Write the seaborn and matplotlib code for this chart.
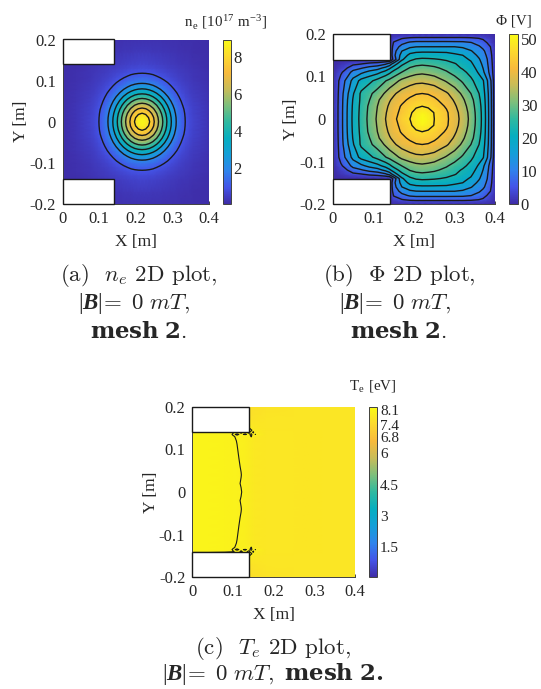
import numpy as np
import seaborn as sns
import matplotlib
matplotlib.use('Agg')
import matplotlib.pyplot as plt
from matplotlib.patches import Rectangle

# Значения считаны с картинки
# ne - четверть вокруг максимума (dx, dy), остальное зеркально
ne_center = .217
ne_dx = [0, .01, .02, .03, .04, .05, .06, .07, .08, .09, .10, .11, .12, .13, .14, .18, .22]
ne_dy = [0, .01, .02, .03, .04, .05, .06, .07, .08, .09, .10, .11, .12, .13, .14, .17, .2]
ne_quarter = [
    [8.9, 8.7, 8.05, 7.3, 6.4, 5.6, 4.7, 3.8, 3.0, 2.2, 1.6, 1.2, .95, .75, .6, .3, .12],
    [8.7, 8.43, 7.87, 7.15, 6.3, 5.51, 4.63, 3.74, 2.95, 2.17, 1.58, 1.19, .94, .74, .6, .3, .12],
    [8.05, 7.87, 7.43, 6.75, 6.02, 5.25, 4.41, 3.58, 2.8, 2.07, 1.52, 1.15, .92, .73, .59, .3, .12],
    [7.3, 7.15, 6.75, 6.2, 5.6, 4.85, 4.06, 3.31, 2.56, 1.91, 1.42, 1.1, .88, .7, .57, .29, .12],
    [6.4, 6.3, 6.02, 5.6, 5.01, 4.34, 3.63, 2.95, 2.24, 1.69, 1.29, 1.02, .82, .66, .54, .28, .12],
    [5.6, 5.51, 5.25, 4.85, 4.34, 3.74, 3.15, 2.52, 1.94, 1.48, 1.15, .93, .75, .61, .51, .27, .12],
    [4.7, 4.63, 4.41, 4.06, 3.63, 3.15, 2.61, 2.07, 1.6, 1.27, 1.03, .84, .69, .57, .48, .26, .12],
    [3.8, 3.74, 3.58, 3.31, 2.95, 2.52, 2.07, 1.66, 1.35, 1.1, .91, .74, .62, .52, .45, .25, .12],
    [3.0, 2.95, 2.8, 2.56, 2.24, 1.94, 1.6, 1.35, 1.12, .94, .79, .66, .56, .48, .41, .23, .12],
    [2.2, 2.17, 2.07, 1.91, 1.69, 1.48, 1.27, 1.1, .94, .8, .68, .58, .5, .44, .38, .22, .12],
    [1.6, 1.58, 1.52, 1.42, 1.29, 1.15, 1.03, .91, .79, .68, .59, .51, .45, .39, .34, .2, .12],
    [1.2, 1.19, 1.15, 1.1, 1.02, .93, .84, .74, .66, .58, .51, .46, .4, .35, .31, .19, .12],
    [.95, .94, .92, .88, .82, .75, .69, .62, .56, .5, .45, .4, .35, .32, .28, .18, .12],
    [.75, .74, .73, .7, .66, .61, .57, .52, .48, .44, .39, .35, .32, .28, .26, .17, .12],
    [.6, .6, .59, .57, .54, .51, .48, .45, .41, .38, .34, .31, .28, .26, .23, .16, .11],
    [.35, .35, .35, .34, .33, .32, .3, .28, .27, .25, .23, .22, .2, .19, .17, .13, .1],
    [.22, .22, .22, .21, .21, .21, .2, .2, .19, .19, .18, .17, .17, .16, .15, .12, .1],
]
ne_levels = [1, 2, 3, 4, 5, 6, 7, 8]
ne_ticks = [2, 4, 6, 8]

phi_x = [0, .01, .02, .03, .05, .07, .09, .11, .13, .14, .15, .17, .19, .205,
         .22, .235, .25, .28, .30, .32, .34, .36, .37, .38, .39, .4]
phi_y = [0, .015, .03, .045, .06, .09, .11, .12, .13, .14, .15, .16, .17, .18, .19, .2]
phi_half = [
    [0, 3.5, 7.5, 12, 19.8, 25, 29.5, 33.6, 37.6, 39.2, 41, 44.7, 47, 49.6,
     51.6, 50, 47, 43.2, 39.5, 36, 31.5, 25.5, 22, 16.5, 9.9, 1],
    [0, 3.5, 7.5, 12, 19.7, 24.9, 29.3, 33.3, 37.2, 39.1, 40.7, 43.5, 46.2, 48.7,
     50.3, 49, 46.8, 43, 39.2, 35.7, 31.2, 25.4, 21.9, 16.4, 9.9, 1],
    [0, 3.5, 7.4, 11.9, 19.5, 24.7, 29, 32.9, 36.5, 38.4, 40, 42.8, 45, 46.3,
     47, 46.3, 45, 41.7, 38.3, 34.8, 30.6, 25, 21.7, 16.3, 9.8, 1],
    [0, 3.4, 7.3, 11.7, 19.1, 24.4, 28, 32.2, 35.3, 37.2, 38.6, 41.1, 43.2, 44.2,
     44.6, 44.2, 43.2, 40, 37, 33.6, 29.8, 24.4, 21.2, 16.1, 9.7, 1],
    [0, 3.3, 7.1, 11.2, 18.3, 24.3, 27.2, 30, 33.6, 35.5, 36.9, 39.4, 40.9, 42,
     42.3, 42, 41, 38.2, 35.3, 32, 28.2, 23.5, 20.6, 15.8, 9.6, 1],
    [0, 3, 6.4, 9.4, 15.5, 20.3, 22.3, 25, 28, 29.5, 31, 34, 35.6, 36.3,
     36.5, 36, 35.5, 32.4, 30.3, 27.5, 24.5, 21, 19.2, 14.5, 9, 1],
    [0, 2, 4, 5.9, 10.9, 13, 15.5, 17.3, 20.5, 22.5, 25, 28.3, 30.5, 31.6,
     32, 31.6, 30.8, 28.7, 26.6, 24.6, 22.1, 18.1, 15, 11.2, 6.8, 1],
    [0, 1.2, 2.5, 3.6, 7.4, 9, 11, 12.3, 15.5, 18, 21, 25.5, 28.5, 29.6,
     30, 29.6, 29, 27, 24.9, 23, 20.8, 17, 14, 10.6, 6.4, .9],
    [0, .6, 1.3, 1.9, 3.6, 4.4, 5.7, 6.5, 8.5, 11, 16, 22.3, 25.8, 26.9,
     27.3, 27, 26.6, 25, 23.8, 21.8, 19.6, 15.9, 13, 10, 6, .8],
    [0, 0, 0, 0, 0, 0, 0, 0, 0, 0, 6, 18, 22.5, 24,
     24.5, 24.3, 24, 23, 21.5, 20, 18.3, 14.6, 12, 9.5, 5.6, .7],
    [0, 0, 0, 0, 0, 0, 0, 0, 0, 0, 8, 16, 20, 20.8,
     21, 21, 20.8, 20.3, 19.8, 18.8, 16.5, 13, 11, 8.8, 5.2, .6],
    [0, 0, 0, 0, 0, 0, 0, 0, 0, 0, 7.5, 14, 17, 17.8,
     18, 18, 18, 18, 17, 15.9, 14.4, 11.8, 10.2, 7.9, 4.6, .5],
    [0, 0, 0, 0, 0, 0, 0, 0, 0, 0, 6.5, 11, 13.3, 14,
     14.1, 14.1, 14.1, 14.1, 14.1, 13.6, 12, 9.9, 8.4, 6.3, 4.3, .5],
    [0, 0, 0, 0, 0, 0, 0, 0, 0, 0, 5, 8, 10, 10.5,
     10.5, 10.5, 10.5, 10.5, 10.4, 10.3, 9.5, 7.8, 6.3, 4.5, 2.5, .4],
    [0, 0, 0, 0, 0, 0, 0, 0, 0, 0, 2.7, 4.4, 5.4, 5.7,
     5.7, 5.7, 5.7, 5.7, 5.7, 5.7, 5.4, 4.6, 4, 3, 1.8, 0],
    [0, 0, 0, 0, 0, 0, 0, 0, 0, 0, 0, 0, 0, 0,
     0, 0, 0, 0, 0, 0, 0, 0, 0, 0, 0, 0],
]
phi_levels = [4.7, 9.4, 14.1, 18.8, 23.5, 28.2, 32.9, 37.6, 42.3, 47]
phi_ticks = [0, 10, 20, 30, 40, 50]

te_x = [0, .04, .08, .10, .11, .12, .13, .14, .145, .15, .155, .18, .25, .32, .4]
te_y = [0, .02, .04, .06, .08, .10, .12, .13, .135, .14, .145, .15, .17, .2]
te_half = [
    [8.08, 8.07, 8.05, 8.03, 8.02, 8.005, 7.97, 7.88, 7.85, 7.82, 7.8, 7.76, 7.75, 7.73, 7.72],
    [8.08, 8.07, 8.05, 8.03, 8.015, 7.995, 7.97, 7.88, 7.85, 7.82, 7.8, 7.76, 7.75, 7.73, 7.72],
    [8.08, 8.07, 8.05, 8.03, 8.015, 8.002, 7.97, 7.88, 7.85, 7.82, 7.8, 7.76, 7.75, 7.73, 7.72],
    [8.08, 8.07, 8.05, 8.03, 8.012, 7.996, 7.97, 7.88, 7.85, 7.82, 7.8, 7.76, 7.75, 7.73, 7.72],
    [8.08, 8.07, 8.05, 8.03, 8.008, 7.99, 7.97, 7.88, 7.85, 7.82, 7.8, 7.76, 7.75, 7.73, 7.72],
    [8.08, 8.07, 8.05, 8.03, 8.003, 7.985, 7.965, 7.88, 7.85, 7.82, 7.8, 7.76, 7.75, 7.73, 7.72],
    [8.08, 8.07, 8.05, 8.01, 7.998, 7.98, 7.96, 7.88, 7.85, 7.82, 7.8, 7.76, 7.75, 7.73, 7.72],
    [8.08, 8.07, 8.05, 8.006, 7.992, 7.98, 7.96, 7.95, 8.01, 7.9, 7.8, 7.76, 7.75, 7.73, 7.72],
    [8.08, 8.07, 8.04, 7.995, 8.004, 7.995, 8.004, 7.99, 8.02, 7.95, 8.005, 7.76, 7.75, 7.73, 7.72],
    [8.05, 8.05, 8.03, 8.004, 7.99, 8.004, 7.99, 8.01, 7.96, 8.02, 7.9, 7.76, 7.75, 7.73, 7.72],
    [7.9, 7.9, 7.9, 7.9, 7.9, 7.9, 7.9, 8.01, 8.02, 7.95, 7.85, 7.75, 7.74, 7.73, 7.72],
    [7.9, 7.9, 7.9, 7.9, 7.9, 7.9, 7.9, 8.01, 7.9, 7.82, 7.78, 7.74, 7.74, 7.73, 7.72],
    [7.8, 7.8, 7.8, 7.8, 7.8, 7.8, 7.8, 7.66, 7.67, 7.68, 7.7, 7.73, 7.74, 7.73, 7.72],
    [7.8, 7.8, 7.8, 7.8, 7.8, 7.8, 7.8, 7.55, 7.56, 7.58, 7.6, 7.68, 7.72, 7.72, 7.72],
]
te_levels = [8]
te_ticks = [1.5, 3, 4.5, 6, 6.8, 7.4, 8.1]

x_ticks = [0, .1, .2, .3, .4]
x_labels = ['0', '0.1', '0.2', '0.3', '0.4']
y_ticks = [-.2, -.1, 0, .1, .2]
y_labels = ['-0.2', '-0.1', '0', '0.1', '0.2']

parula = ['#3e2ca6', '#4454e8', '#2f84ec', '#149fd8', '#06aec0', '#2fb9a0',
          '#7dbf7c', '#c8bc58', '#f8ba3c', '#fcd92e', '#f9fb15']

sns.set_theme(style='ticks')
plt.rcParams['font.family'] = ['Liberation Serif']
plt.rcParams['text.color'] = '#262626'
plt.rcParams['axes.labelcolor'] = '#262626'
plt.rcParams['mathtext.fontset'] = 'custom'
plt.rcParams['mathtext.rm'] = 'cmr10'
plt.rcParams['mathtext.it'] = 'cmmi10'
plt.rcParams['mathtext.bf'] = 'DejaVu Serif:bold'
plt.rcParams['mathtext.sf'] = 'Liberation Serif'
plt.rcParams['mathtext.bfit'] = 'Liberation Serif:italic:bold'
plt.rcParams['mathtext.fallback'] = 'cm'

cmap = sns.blend_palette(parula, n_colors=256, as_cmap=True)

W, H = 541, 689
fig = plt.figure(figsize=(W / 100, H / 100), dpi=100)


def px_axes(x0, x1, y0, y1):
    return fig.add_axes([x0 / W, 1 - y1 / H, (x1 - x0) / W, (y1 - y0) / H])


def panel(box, cbox, xs, ys, half, levels, vmin, vmax, ticks, lw, cb_size=12):
    half = np.array(half)
    ys = np.array(ys)
    yy = np.concatenate([-ys[:0:-1], ys])
    z = np.vstack([half[:0:-1], half])
    ax = px_axes(*box)
    mesh = ax.pcolormesh(xs, yy, z, cmap=cmap, vmin=vmin, vmax=vmax, shading='gouraud')
    ax.contour(xs, yy, z, levels=levels, colors='k', linewidths=lw)
    for y0 in (.14, -.2):
        ax.add_patch(Rectangle((0, y0), .14, .06, fc='white', ec='k', lw=1, zorder=5, clip_on=False))
    ax.set_xlim(0, .4)
    ax.set_ylim(-.2, .2)
    ax.set_xticks(x_ticks, x_labels)
    ax.set_yticks(y_ticks, y_labels)
    ax.tick_params(direction='in', length=2, width=.6, labelsize=12, color='#262626',
                   labelcolor='#262626', pad=5)
    sns.despine(ax=ax)
    for s in ('left', 'bottom'):
        ax.spines[s].set_linewidth(.7)
        ax.spines[s].set_color('#404040')
    ax.set_xlabel('X [m]', fontsize=12.5, labelpad=5)
    ax.set_ylabel('Y [m]', fontsize=12.5, labelpad=0)
    cax = px_axes(*cbox)
    cb = fig.colorbar(mesh, cax=cax)
    cb.set_ticks(ticks, labels=[f'{t:g}' for t in ticks])
    cax.tick_params(direction='in', length=2, width=.6, labelsize=cb_size, color='#262626',
                    labelcolor='#262626', pad=2)
    cb.outline.set_linewidth(.7)
    cb.outline.set_edgecolor('#404040')
    return ax


# ne собираем из четверти
ne_arr = np.array(ne_quarter)
ne_arr = np.hstack([ne_arr[:, :0:-1], ne_arr])
ne_dx_arr = np.array(ne_dx)
ne_x = np.concatenate([ne_center - ne_dx_arr[:0:-1], ne_center + ne_dx_arr])

panel((62.7, 209, 39.5, 204), (222.7, 230.7, 39.5, 204), ne_x, ne_dy, ne_arr, ne_levels, .07, 8.97, ne_ticks, 1.0)
panel((332.7, 495.3, 34, 204), (509.3, 518, 34, 204), phi_x, phi_y, phi_half, phi_levels, 0, 51.6, phi_ticks, 1.0)
panel((192.3, 355, 406.7, 577.3), (369.3, 377.3, 406.7, 577.3), te_x, te_y, te_half, te_levels, .02, 8.26, te_ticks, .8, 11)

fig.text(226 / W, 1 - 22 / H, r'n$_{\mathregular{e}}$ [10$^{\mathregular{17}}$ m$^{\mathregular{-3}}$]',
         fontsize=10.8, ha='center', va='center')
fig.text(513.5 / W, 1 - 21 / H, 'Φ [V]', fontsize=10.8, ha='center', va='center')
fig.text(373 / W, 1 - 387 / H, r'T$_{\mathregular{e}}$ [eV]', fontsize=10.8, ha='center', va='center')

bar = r'\mathsf{|}\mathbfit{B}\mathsf{|}\!=\ 0\ mT,'
captions = [
    (139, 275, r'(a)  $n_e$ 2D plot,'),
    (134, 303, '$' + bar + '$'),
    (139, 332, r'$\mathbf{mesh\ 2}$.'),
    (399, 275, r'(b)  $\Phi$ 2D plot,'),
    (395, 303, '$' + bar + '$'),
    (399, 332, r'$\mathbf{mesh\ 2}$.'),
    (273, 648, r'(c)  $T_e$ 2D plot,'),
    (273, 674, '$' + bar + r'\ \mathbf{mesh\ 2.}$'),
]
for cx, cy, s in captions:
    fig.text(cx / W, 1 - cy / H, s, family='cmr10', fontsize=16.5, ha='center', va='center')

fig.savefig('out.png', dpi=100)
